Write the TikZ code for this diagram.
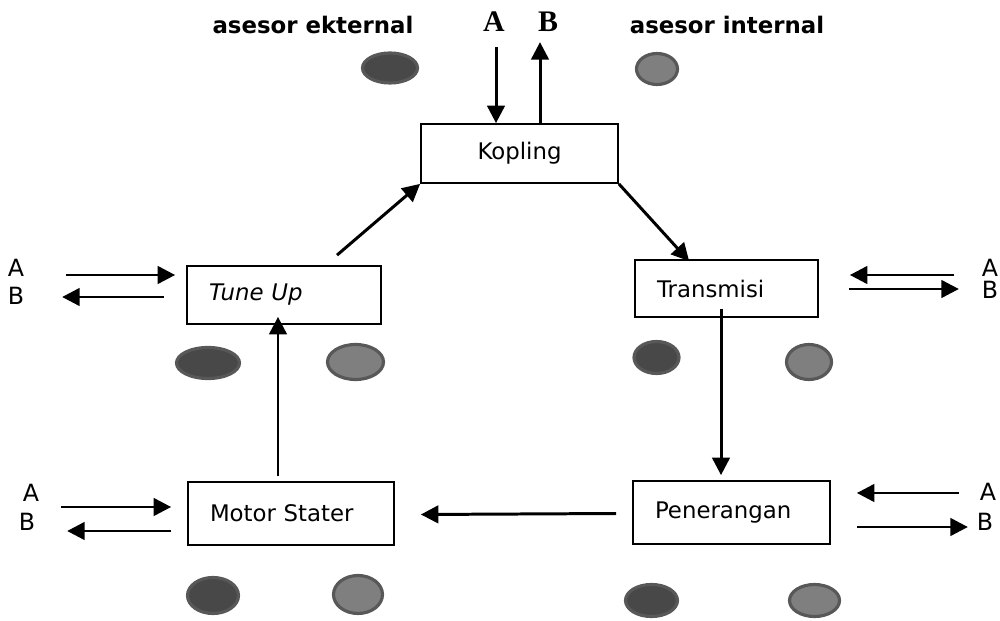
\documentclass[tikz,border=0pt]{standalone}
\usepackage{fontspec}
\setmainfont{DejaVu Sans}
\newfontfamily\hurufab{Liberation Serif}
\usetikzlibrary{arrows.meta,calc}
\definecolor{isigelap}{HTML}{484848}
\definecolor{cincingelap}{HTML}{585858}
\definecolor{isiterang}{HTML}{7F7F7F}
\definecolor{cincinterang}{HTML}{585858}
\tikzset{
  kotak/.style={draw,line width=1pt,inner ysep=0pt,font=\fontsize{13}{15}\selectfont},
  kotakkiri/.style={kotak,align=left,inner xsep=0.44cm},
  panah/.style={line width=1.7pt,-{Triangle[length=10pt,width=10pt]}},
  huruf/.style={font=\fontsize{13.5}{15}\selectfont},
  gelap/.style={draw=cincingelap,fill=isigelap,line width=1.8pt},
  terang/.style={draw=cincinterang,fill=isiterang,line width=1.8pt}
}
\begin{document}
\begin{tikzpicture}[x=0.02cm,y=-0.02cm]
  \useasboundingbox (0,0) rectangle (1000,621);
  % judul
  \node[font=\bfseries\fontsize{13}{15}\selectfont] (ekst) at (313,25) {asesor ekternal};
  \node[font=\bfseries\fontsize{13}{15}\selectfont] (inte) at (727,25) {asesor internal};
  \node[font=\hurufab\bfseries\fontsize{17}{19}\selectfont] (atasA) at (494,22) {A};
  \node[font=\hurufab\bfseries\fontsize{17}{19}\selectfont] (atasB) at (548,22) {B};
  % kotak
  \node[kotak,minimum width=3.94cm,minimum height=1.18cm,align=center] (kopling) at (519.5,153.5) {Kopling};
  \node[kotakkiri,text width=3.0cm,minimum height=1.16cm] (tuneup) at (284,295) {\textit{Tune Up}};
  \node[kotakkiri,text width=2.78cm,minimum height=1.14cm] (transmisi) at (726.5,288.5) {Transmisi};
  \node[kotakkiri,text width=3.24cm,minimum height=1.26cm] (motor) at (291,513.5) {Motor Stater};
  \node[kotakkiri,text width=3.06cm,minimum height=1.26cm] (penerangan) at (731.5,512.5) {Penerangan};
  % huruf A dan B di samping
  \node[huruf] (tuA) at (16,268) {A};
  \node[huruf] (tuB) at (16,296) {B};
  \node[huruf] (trA) at (990,268) {A};
  \node[huruf] (trB) at (990,290) {B};
  \node[huruf] (moA) at (31,493) {A};
  \node[huruf] (moB) at (27,522) {B};
  \node[huruf] (peA) at (988,492) {A};
  \node[huruf] (peB) at (985,522) {B};
  % elips
  \foreach \x/\y/\rx/\ry in {390/68/27.5/15, 208/363/31.5/15.5, 656.5/357.5/22.5/16,
      213/595.5/25.5/18, 651.5/600.5/26/16}
    \draw[gelap] (\x,\y) ellipse ({\rx*0.02cm} and {\ry*0.02cm});
  \foreach \x/\y/\rx/\ry in {657/69/20.5/15.5, 355.5/362/28/17.5, 809/362/22.5/17.5,
      358/594.5/24.5/19, 814.5/600.5/25/16}
    \draw[terang] (\x,\y) ellipse ({\rx*0.02cm} and {\ry*0.02cm});
  % alur utama
  \draw[panah] ($(kopling.north)+(-23.5,-76)$) -- ($(kopling.north)+(-23.5,0)$);
  \draw[panah] ($(kopling.north)+(20.5,2)$) -- ($(kopling.north)+(20.5,-81)$);
  \draw[panah] ($(tuneup.north)+(53,-10)$) -- (kopling.south west);
  \draw[panah] (kopling.south east) -- ($(transmisi.north west)+(55,2)$);
  \draw[panah] ($(transmisi.south)+(-5.5,-9)$) -- ($(transmisi.south |- penerangan.north)+(-5.5,-5)$);
  \draw[panah] ($(penerangan.west)+(-16,1)$) -- ($(motor.east)+(26,1)$);
  \draw[panah] ($(motor.north)+(-13,-5)$) -- ($(motor.north |- tuneup.south)+(-13,-8)$);
  % panah samping
  \draw[panah] ($(tuneup.west)+(-120,-20)$) -- ($(tuneup.west)+(-11,-20)$);
  \draw[panah] ($(tuneup.west)+(-22,2)$) -- ($(tuneup.west)+(-124,2)$);
  \draw[panah] ($(transmisi.east)+(135,-13.5)$) -- ($(transmisi.east)+(31,-13.5)$);
  \draw[panah] ($(transmisi.east)+(30,0.5)$) -- ($(transmisi.east)+(140,0.5)$);
  \draw[panah] ($(motor.west)+(-126,-6.5)$) -- ($(motor.west)+(-16,-6.5)$);
  \draw[panah] ($(motor.west)+(-16,17.5)$) -- ($(motor.west)+(-120,17.5)$);
  \draw[panah] ($(penerangan.east)+(128,-19.5)$) -- ($(penerangan.east)+(26,-19.5)$);
  \draw[panah] ($(penerangan.east)+(26,14.5)$) -- ($(penerangan.east)+(137,14.5)$);
\end{tikzpicture}
\end{document}
